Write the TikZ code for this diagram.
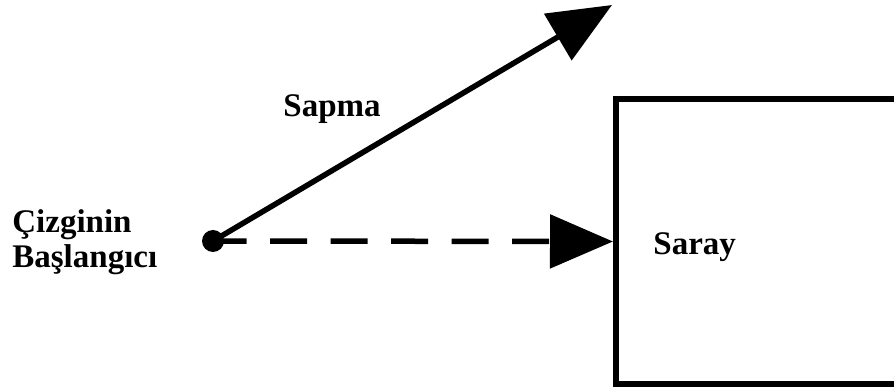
\documentclass[tikz,border=0pt]{standalone}
\usepackage{fontspec}
\setmainfont{Liberation Serif}
\usetikzlibrary{arrows.meta,positioning}
\begin{document}
\begin{tikzpicture}[x=0.5pt,y=-0.5pt,lbl/.style={font=\bfseries\fontsize{16.5}{18}\selectfont,inner sep=0pt},arr/.style={line width=2.75pt,-{Triangle[length=31.5pt,width=26.5pt]}},palace/.style={draw,line width=3pt,minimum width=172pt,minimum height=142.5pt,inner sep=0pt}]
\useasboundingbox (0,0) rectangle (894,389);
\clip (0,0) rectangle (894,389);
\node[circle,fill,inner sep=0pt,minimum size=11pt] (start) at (213,241) {};
\node[palace] (saray) at (788,241.5) {};
\node[lbl,anchor=base west] (saraylbl) at (653,255) {Saray};
\coordinate (sapmatip) at (612,5);
\node[lbl,anchor=base west] (sapma) at (283,117) {Sapma};
\node[lbl,anchor=base west] (cizg) at (12,233) {Çizginin};
\node[lbl,anchor=base west] (basl) at (12,268) {Başlangıcı};
\draw[arr](start.center)--(sapmatip);
\draw[arr,dash pattern=on 18.5pt off 11.75pt,dash phase=1.75pt](start.center)--(saray.west);
\end{tikzpicture}
\end{document}
